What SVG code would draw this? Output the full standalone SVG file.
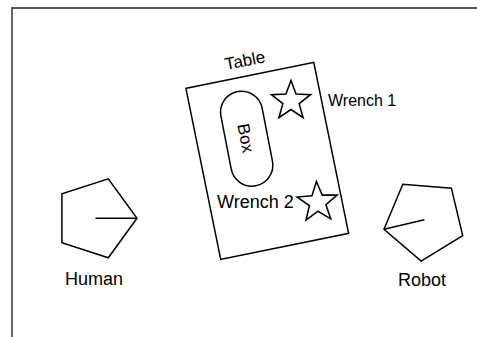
<svg xmlns="http://www.w3.org/2000/svg" width="477" height="337" viewBox="0 0 477 337">
<style>
.shape{fill:none;stroke:#000;stroke-width:1.5;stroke-linejoin:miter}
.lbl{font-family:"Liberation Sans",Arial,sans-serif;font-size:17px;fill:#000}
.big{font-size:18px}
</style>
<defs>
<polygon id="star" points="0,-20 4.9,-6.75 19.02,-6.18 7.9,2.57 11.76,16.18 0,8.3 -11.76,16.18 -7.9,2.57 -19.02,-6.18 -4.9,-6.75"/>
</defs>
<rect width="477" height="337" fill="#fff"/>
<path d="M12,337 V8 H477" fill="none" stroke="#555" stroke-width="1.8"/>
<g id="table">
<rect class="shape" x="-65.25" y="-87.3" width="130.5" height="174.6" transform="translate(267.25,160.85) rotate(-11.5)"/>
<text class="lbl" text-anchor="middle" transform="translate(246,66) rotate(-11)">Table</text>
</g>
<g id="box">
<rect class="shape" x="-21" y="-48" width="42" height="96" rx="21" ry="21" transform="translate(246.7,138.7) rotate(-11)"/>
<text class="lbl" text-anchor="middle" y="6" transform="translate(246,138) rotate(79)">Box</text>
</g>
<g id="wrench1">
<use href="#star" class="shape" transform="translate(291,101) scale(1.03)"/>
<text class="lbl" style="font-size:16px" x="328" y="106">Wrench 1</text>
</g>
<g id="wrench2">
<use href="#star" class="shape" transform="translate(317.5,202.5) rotate(-3) scale(1.05)"/>
<text class="lbl" style="font-size:18px" x="217" y="208">Wrench 2</text>
</g>
<g id="human">
<polygon class="shape" points="137,218.3 108.3,257.8 61.9,242.7 61.9,193.9 108.3,178.8"/>
<line class="shape" x1="95.5" y1="218.3" x2="137" y2="218.3"/>
<text class="lbl big" x="65" y="285">Human</text>
</g>
<g id="robot">
<polygon class="shape" points="384,229.3 402.8,184.3 451.4,188.2 462.7,235.6 421.1,261.1"/>
<line class="shape" x1="384" y1="229.3" x2="424.4" y2="219.7"/>
<text class="lbl big" x="398" y="286">Robot</text>
</g>
</svg>
